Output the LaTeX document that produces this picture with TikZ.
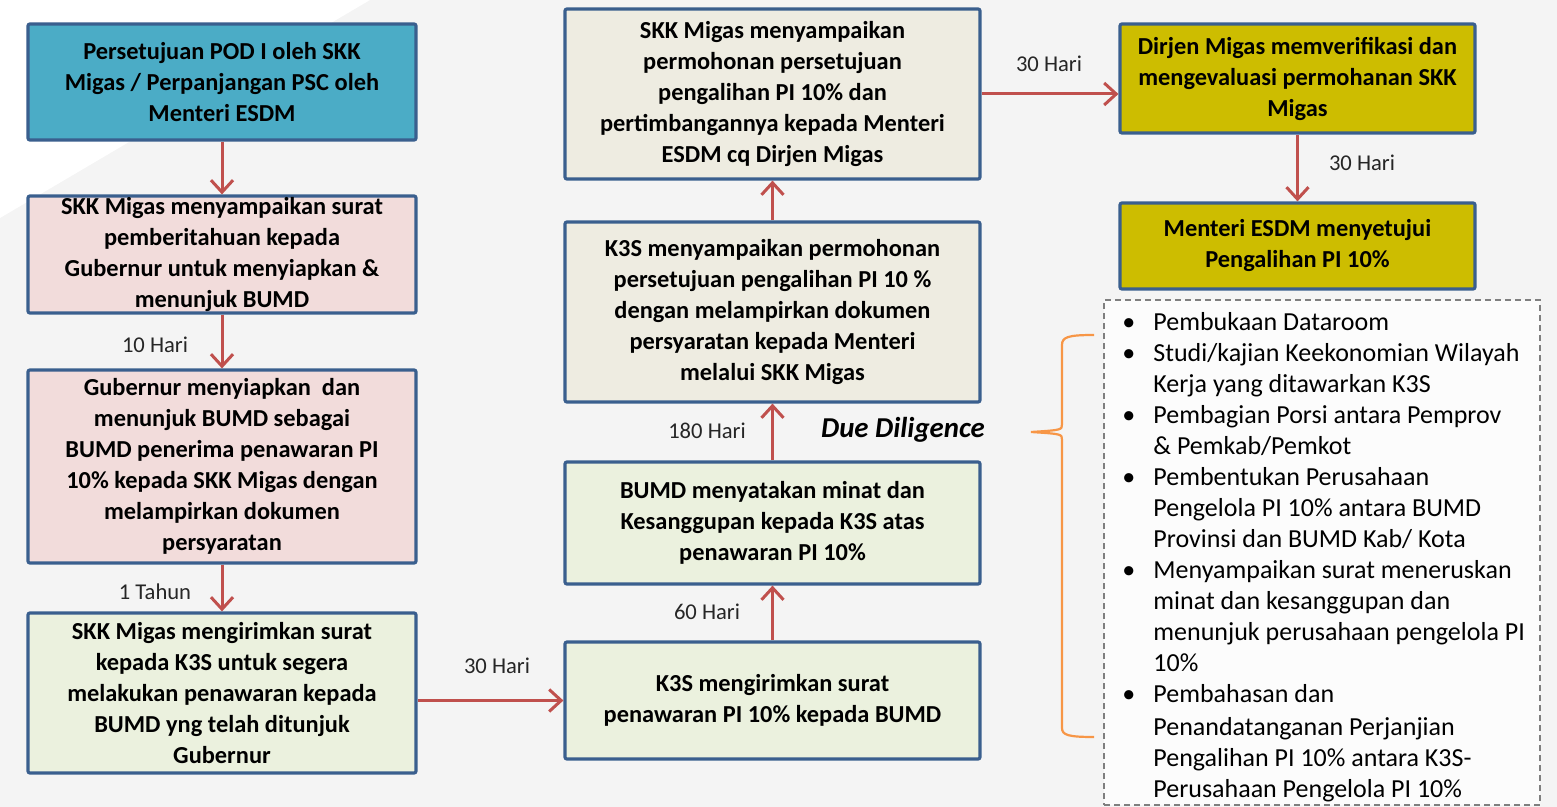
\documentclass[tikz,border=0pt]{standalone}
\usepackage{fontspec}
\setmainfont{Carlito}
\usetikzlibrary{arrows.meta}
\definecolor{bgc}{HTML}{F4F4F4}
\definecolor{bluec}{HTML}{4BACC6}
\definecolor{bordc}{HTML}{3A5F8E}
\definecolor{pinkc}{HTML}{F2DCDB}
\definecolor{greenc}{HTML}{EBF1DE}
\definecolor{creamc}{HTML}{EEECE1}
\definecolor{yellc}{HTML}{CDBD00}
\definecolor{arrc}{HTML}{C0504D}
\definecolor{bracec}{HTML}{F79646}
\definecolor{dashc}{HTML}{7F7F7F}
\begin{document}
\begin{tikzpicture}[x=0.5pt,y=-0.5pt,
  box/.style={draw=bordc, line width=1.6pt, rounded corners=1pt, align=center,
    font=\fontsize{12.2}{15.5}\selectfont\bfseries, inner sep=0pt},
  conn/.style={draw=arrc, line width=1.5pt,
    -{Straight Barb[length=6pt,width=11pt,line width=1.5pt]}},
  lbl/.style={font=\fontsize{11.3}{13}\selectfont, text=black!85, inner sep=0pt},
  brace/.style={draw=bracec, line width=1.1pt}
]
\useasboundingbox (0,0) rectangle (1557,807);
\fill[bgc] (0,0) rectangle (1557,807);
\fill[white] (0,0) -- (370,0) -- (0,218) -- cycle;

% left column
\node[box, fill=bluec, minimum width=194pt, minimum height=58pt] (b1) at (222,82)
  {Persetujuan POD I oleh SKK\\Migas / Perpanjangan PSC oleh\\Menteri ESDM};
\node[box, fill=pinkc, minimum width=194pt, minimum height=58.5pt] (b2) at (222,254.5)
  {SKK Migas menyampaikan surat\\pemberitahuan kepada\\Gubernur untuk menyiapkan \&\\menunjuk BUMD};
\node[box, fill=pinkc, minimum width=194pt, minimum height=96.5pt] (b3) at (222,466.5)
  {Gubernur menyiapkan\ \ dan\\menunjuk BUMD sebagai\\BUMD penerima penawaran PI\\10\% kepada SKK Migas dengan\\melampirkan dokumen\\persyaratan};
\node[box, fill=greenc, minimum width=194pt, minimum height=80pt] (b4) at (222,693)
  {SKK Migas mengirimkan surat\\kepada K3S untuk segera\\melakukan penawaran kepada\\BUMD yng telah ditunjuk\\Gubernur};

% middle column
\node[box, fill=greenc, minimum width=207.5pt, minimum height=58.5pt] (b5) at (772.5,700.5)
  {K3S mengirimkan surat\\penawaran PI 10\% kepada BUMD};
\node[box, fill=greenc, minimum width=207.5pt, minimum height=61pt] (b6) at (772.5,523)
  {BUMD menyatakan minat dan\\Kesanggupan kepada K3S atas\\penawaran PI 10\%};
\node[box, fill=creamc, minimum width=207.5pt, minimum height=90pt] (b7) at (772.5,312)
  {K3S menyampaikan permohonan\\persetujuan pengalihan PI 10 \%\\dengan melampirkan dokumen\\persyaratan kepada Menteri\\melalui SKK Migas};
\node[box, fill=creamc, minimum width=207.5pt, minimum height=85pt] (b8) at (772.5,94)
  {SKK Migas menyampaikan\\permohonan persetujuan\\pengalihan PI 10\% dan\\pertimbangannya kepada Menteri\\ESDM cq Dirjen Migas};

% right column
\node[box, fill=yellc, minimum width=177.5pt, minimum height=54.5pt] (b9) at (1297.5,78.5)
  {Dirjen Migas memverifikasi dan\\mengevaluasi permohanan SKK\\Migas};
\node[box, fill=yellc, minimum width=177.5pt, minimum height=43pt] (b10) at (1297.5,246)
  {Menteri ESDM menyetujui\\Pengalihan PI 10\%};

\node[draw=dashc, dash pattern=on 3pt off 2pt, line width=0.8pt, fill=white!70!bgc,
  minimum width=218pt, minimum height=252.5pt, inner sep=0pt] (dbox) at (1322,552.5) {};
\node[anchor=north west, inner sep=0pt, align=left,
  font=\fontsize{13}{15.5}\selectfont] (list) at (1120,312)
  {\makebox[16.5pt][l]{\hspace{1pt}\textbullet}Pembukaan Dataroom\\
   \makebox[16.5pt][l]{\hspace{1pt}\textbullet}Studi/kajian Keekonomian Wilayah\\
   \hspace*{16.5pt}Kerja yang ditawarkan K3S\\
   \makebox[16.5pt][l]{\hspace{1pt}\textbullet}Pembagian Porsi antara Pemprov\\
   \hspace*{16.5pt}\& Pemkab/Pemkot\\
   \makebox[16.5pt][l]{\hspace{1pt}\textbullet}Pembentukan Perusahaan\\
   \hspace*{16.5pt}Pengelola PI 10\% antara BUMD\\
   \hspace*{16.5pt}Provinsi dan BUMD Kab/ Kota\\
   \makebox[16.5pt][l]{\hspace{1pt}\textbullet}Menyampaikan surat meneruskan\\
   \hspace*{16.5pt}minat dan kesanggupan dan\\
   \hspace*{16.5pt}menunjuk perusahaan pengelola PI\\
   \hspace*{16.5pt}10\%\\
   \makebox[16.5pt][l]{\hspace{1pt}\textbullet}Pembahasan dan\\[1pt]
   \hspace*{16.5pt}Penandatanganan Perjanjian\\
   \hspace*{16.5pt}Pengalihan PI 10\% antara K3S-\\
   \hspace*{16.5pt}Perusahaan Pengelola PI 10\%};

% brace
\draw[brace] (1094,335) .. controls (1068,335) and (1062,337) .. (1062,345)
  -- (1062,424) .. controls (1062,430) .. (1031,432)
  .. controls (1062,434) .. (1062,440)
  -- (1062,728) .. controls (1062,735) and (1068,737) .. (1094,737);

\node[font=\fontsize{14.4}{16}\selectfont\bfseries\itshape, inner sep=0pt] (dd) at (903,430) {Due Diligence};

% connectors
\draw[conn] (b1) -- (b2);
\draw[conn] (b2) -- (b3);
\draw[conn] (b3) -- (b4);
\draw[conn] (b4.east |- b5.west) -- (b5.west);
\draw[conn] (b5) -- (b6);
\draw[conn] (b6) -- (b7);
\draw[conn] (b7) -- (b8);
\draw[conn] (b8.east) -- (b8.east -| b9.west);
\draw[conn] (b9) -- (b10);

\node[lbl] (l1) at (155,345) {10 Hari};
\node[lbl] (l2) at (155,592) {1 Tahun};
\node[lbl] (l3) at (497,666) {30 Hari};
\node[lbl] (l4) at (707,612) {60 Hari};
\node[lbl] (l5) at (707,431) {180 Hari};
\node[lbl] (l6) at (1049,64) {30 Hari};
\node[lbl] (l7) at (1362,163) {30 Hari};
\end{tikzpicture}
\end{document}
